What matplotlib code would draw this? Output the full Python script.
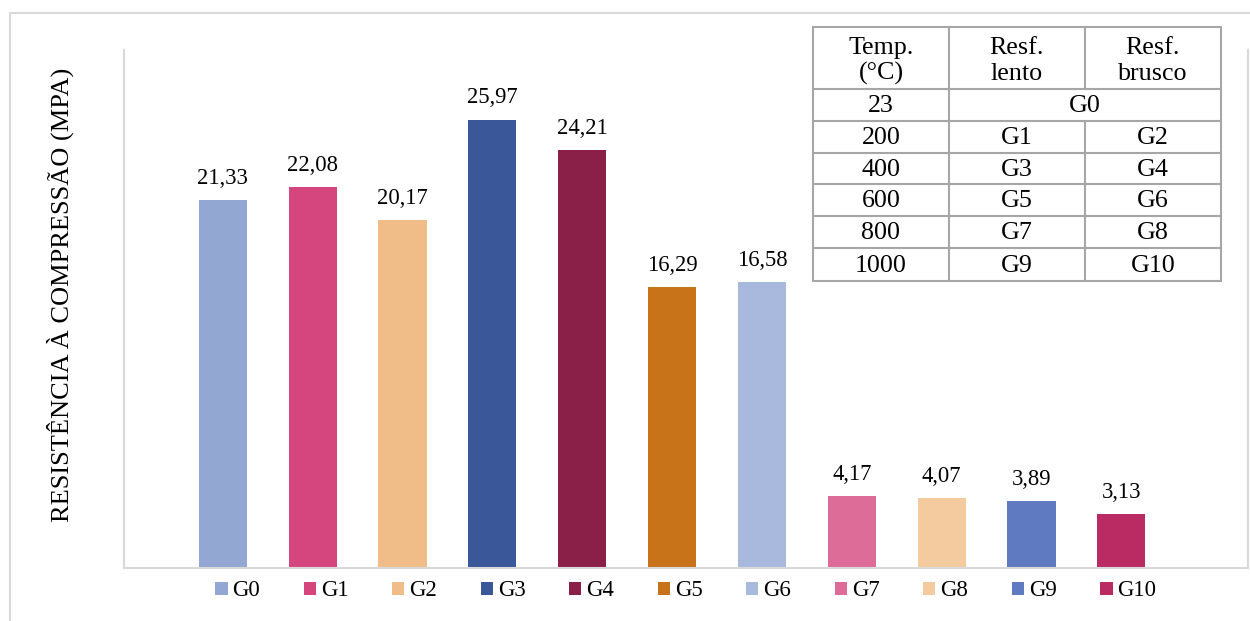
import matplotlib
matplotlib.use("Agg")
import matplotlib.pyplot as plt
from matplotlib.patches import Rectangle, Patch

plt.rcParams['font.family'] = ['Liberation Serif', 'DejaVu Serif']

groups = ["G0", "G1", "G2", "G3", "G4", "G5", "G6", "G7", "G8", "G9", "G10"]
strength = [21.33, 22.08, 20.17, 25.97, 24.21, 16.29, 16.58, 4.17, 4.07, 3.89, 3.13]
colors = ["#93A7D3", "#D5467E", "#F0BD89", "#3A579A", "#8A1F48", "#C87219",
          "#A9B9DE", "#DE6C98", "#F3CB9F", "#607AC2", "#B92B62"]

table_header = [("Temp.", "(°C)"), ("Resf.", "lento"), ("Resf.", "brusco")]
temps = ["23", "200", "400", "600", "800", "1000"]
slow_cool = ["G0", "G1", "G3", "G5", "G7", "G9"]
fast_cool = ["G0", "G2", "G4", "G6", "G8", "G10"]

W, H = 1250, 621
fig = plt.figure(figsize=(W / 100, H / 100), dpi=100)

# outer frame
fig.patches.append(Rectangle((10 / W, -0.1), 1.2, 1 - 13 / H + 0.1,
                             transform=fig.transFigure, fill=False,
                             edgecolor="#D9D9D9", linewidth=1.5))

ax = fig.add_axes([124 / W, 1 - 568 / H, (1248 - 124) / W, (568 - 50) / H])
x = list(range(len(groups)))
ax.bar(x, strength, width=0.535, color=colors)
ax.set_xlim(-1.10, 11.41)
ax.set_ylim(0, 30)
ax.set_xticks([])
ax.set_yticks([])
ax.spines["top"].set_visible(False)
for side in ["left", "bottom", "right"]:
    ax.spines[side].set_color("#D9D9D9")
    ax.spines[side].set_linewidth(1.5)

for xi, v in zip(x, strength):
    ax.annotate(f"{v:.2f}".replace(".", ","), (xi, v), xytext=(0, 8),
                textcoords="offset points", ha="center", va="bottom",
                fontsize=16.3)

fig.text(60 / W, 1 - 295 / H, "RESISTÊNCIA À COMPRESSÃO (MPA)", rotation=90,
         ha="center", va="center", fontsize=19)

handles = [Patch(facecolor=c, label=g) for c, g in zip(colors, groups)]
fig.legend(handles=handles, loc="center", bbox_to_anchor=(686 / W, 1 - 591 / H),
           ncol=len(groups), frameon=False, fontsize=16.5, handlelength=0.53,
           handleheight=0.53, handletextpad=0.22, columnspacing=1.9,
           borderpad=0.2)

# lookup table
tx0, tx1, ty0, ty1 = 813, 1221, 27, 281
tax = fig.add_axes([tx0 / W, 1 - ty1 / H, (tx1 - tx0) / W, (ty1 - ty0) / H])
tax.set_xlim(0, 3)
row_edges = [0, 62, 94, 126, 157, 189, 221, 254]
tax.set_ylim(row_edges[-1], 0)
tax.axis("off")
lc = "#A6A6A6"
lw = 1.5
tax.add_patch(Rectangle((0, 0), 3, row_edges[-1], fill=False, edgecolor=lc,
                        linewidth=lw, clip_on=False))
for y in row_edges[1:-1]:
    tax.plot([0, 3], [y, y], color=lc, lw=lw, clip_on=False)
tax.plot([1, 1], [0, row_edges[-1]], color=lc, lw=lw, clip_on=False)
tax.plot([2, 2], [0, row_edges[1]], color=lc, lw=lw, clip_on=False)
tax.plot([2, 2], [row_edges[2], row_edges[-1]], color=lc, lw=lw, clip_on=False)

fs = 18.7
for j, (top, bottom) in enumerate(table_header):
    tax.text(j + 0.5, 27, top, ha="center", va="baseline", fontsize=fs)
    tax.text(j + 0.5, 53, bottom, ha="center", va="baseline", fontsize=fs)
for i, (t, s, f) in enumerate(zip(temps, slow_cool, fast_cool)):
    yc = (row_edges[i + 1] + row_edges[i + 2]) / 2 + 1
    tax.text(0.5, yc, t, ha="center", va="center", fontsize=fs)
    if s == f:
        tax.text(2.0, yc, s, ha="center", va="center", fontsize=fs)
    else:
        tax.text(1.5, yc, s, ha="center", va="center", fontsize=fs)
        tax.text(2.5, yc, f, ha="center", va="center", fontsize=fs)

fig.savefig("out.png", dpi=100)
